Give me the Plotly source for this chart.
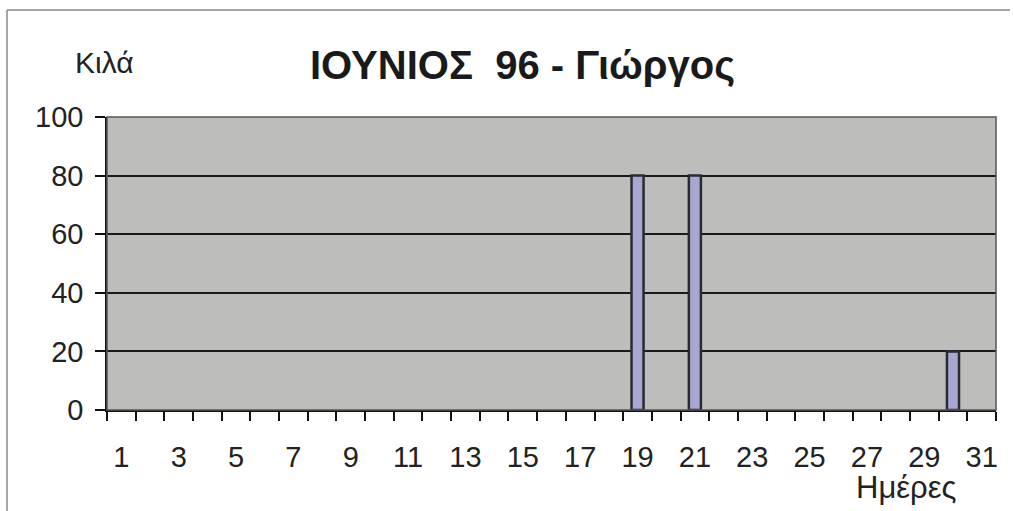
import plotly.graph_objects as go

days = list(range(1, 32))
kilos = [0]*31
kilos[19-1] = 80
kilos[21-1] = 80
kilos[30-1] = 20

x_tick_vals = list(range(1, 32, 2))
x_tick_text = [str(v) for v in x_tick_vals]
y_tick_vals = [0, 20, 40, 60, 80, 100]

title_text = "ΙΟΥΝΙΟΣ  96 - Γιώργος"
y_label = "Κιλά"
x_label = "Ημέρες"

W, H = 1013, 511
L, R, T, B = 107, 996, 117, 410

def px(xp):
    return (xp - L) / (R - L)

def py(yp):
    return (B - yp) / (B - T)

FONT = "Liberation Sans, Arial, sans-serif"

bar_y = [v if v != 0 else None for v in kilos]

fig = go.Figure()
fig.add_trace(go.Bar(
    x=days, y=bar_y, width=0.42,
    marker=dict(color="#a7a7d2", line=dict(color="#2a2a33", width=2.5)),
    hoverinfo="skip",
))

fig.update_layout(
    width=W, height=H,
    margin=dict(l=L, r=W - R, t=T, b=H - B, pad=0),
    paper_bgcolor="white",
    plot_bgcolor="#bdbdbb",
    showlegend=False,
    font=dict(family=FONT, color="#222222"),
    xaxis=dict(
        range=[0.5, 31.5], tickmode="array", tickvals=x_tick_vals, ticktext=x_tick_text,
        ticks="", showgrid=False, zeroline=False,
        showline=True, linecolor="#111111", linewidth=1.5,
        tickfont=dict(size=29, family=FONT, color="#222222"),
        ticklabelstandoff=20,
        minor=dict(tick0=0.5, dtick=1, ticks="outside", ticklen=9, tickcolor="#111111",
                   tickwidth=1.5, showgrid=False),
    ),
    yaxis=dict(
        range=[0, 100], tickmode="array", tickvals=y_tick_vals,
        ticks="outside", ticklen=10, tickcolor="#111111", tickwidth=1.5,
        showgrid=True, gridcolor="#1a1a1a", gridwidth=1.6, zeroline=False,
        showline=True, linecolor="#111111", linewidth=1.5,
        tickfont=dict(size=29, family=FONT, color="#222222"),
        ticklabelstandoff=6,
    ),
    shapes=[
        dict(type="rect", xref="paper", yref="paper", x0=0, x1=1, y0=0, y1=1,
             line=dict(color="#555555", width=1.5), layer="above"),
        dict(type="line", xref="paper", yref="paper", x0=px(7), x1=px(1010), y0=py(10), y1=py(10),
             line=dict(color="#888888", width=1.5)),
        dict(type="line", xref="paper", yref="paper", x0=px(7), x1=px(7), y0=py(10), y1=py(515),
             line=dict(color="#888888", width=1.5)),
    ],
    annotations=[
        dict(text="<b>" + title_text + "</b>", xref="paper", yref="paper",
             x=px(522), y=py(65), showarrow=False, xanchor="center", yanchor="middle",
             font=dict(size=40, family=FONT, color="#1a1a1a")),
        dict(text=y_label, xref="paper", yref="paper",
             x=px(104), y=py(63), showarrow=False, xanchor="center", yanchor="middle",
             font=dict(size=30, family=FONT, color="#222222")),
        dict(text=x_label, xref="paper", yref="paper",
             x=px(906), y=py(487), showarrow=False, xanchor="center", yanchor="middle",
             font=dict(size=31, family=FONT, color="#222222")),
    ],
)

fig.write_html("out.html", config={"displayModeBar": False},
               post_script="document.body.style.margin='0';document.body.style.overflow='hidden';")
